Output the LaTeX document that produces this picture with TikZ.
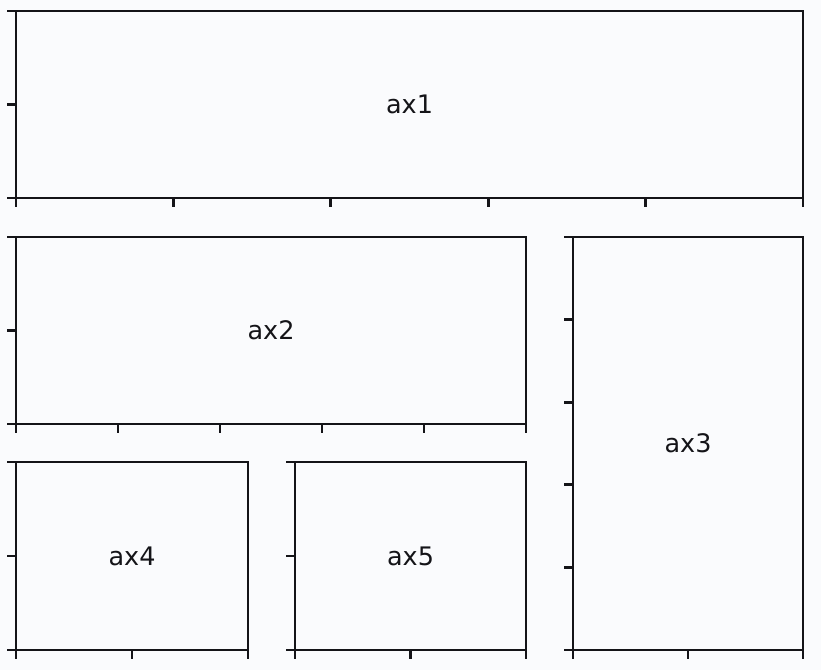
\documentclass[tikz,border=0pt]{standalone}
\usepackage{fontspec}
\setmainfont{DejaVu Sans}
\definecolor{bgcol}{RGB}{250,251,253}
\definecolor{axcol}{RGB}{20,20,24}
\newcommand\axbox[8]{%
  \draw[frame] (#2,#3) rectangle (#4,#5);
  \foreach \i in {0,...,#6} \draw[tick] ({#2+(#4-#2)*\i/#6},#5) -- ++(0,9);
  \foreach \j in {0,...,#7} \draw[tick] (#2,{#3+(#5-#3)*\j/#7}) -- ++(-9,0);
  \node[lbl] (#1) at ({(#2+#4)/2},{(#3+#5)/2}) {#8};
}
\begin{document}
\begin{tikzpicture}[x=1pt,y=-1pt,
  frame/.style={line width=2.8pt, draw=axcol},
  tick/.style={line width=2.8pt, draw=axcol},
  lbl/.style={font=\fontsize{25.5}{30}\selectfont, text=axcol}]
\fill[bgcol] (0,0) rectangle (821,670);
\useasboundingbox (0,0) rectangle (821,670);
\axbox{ax1}{16}{11}{803}{198}{5}{2}{ax1}
\axbox{ax2}{16}{237}{526}{424}{5}{2}{ax2}
\axbox{ax3}{573}{237}{803}{650}{2}{5}{ax3}
\axbox{ax4}{16}{462}{248}{650}{2}{2}{ax4}
\axbox{ax5}{295}{462}{526}{650}{2}{2}{ax5}
\end{tikzpicture}
\end{document}
